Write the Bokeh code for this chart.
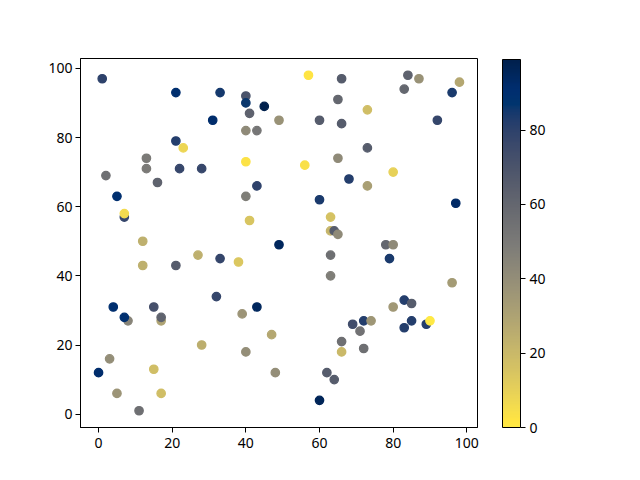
from bokeh.plotting import figure
from bokeh.models import Range1d, LinearColorMapper, ColorBar, FixedTicker, ColumnDataSource
from bokeh.palettes import Cividis256
from bokeh.embed import file_html
from bokeh.resources import INLINE

# data
xs = [1, 21, 33, 40, 40, 45, 41, 31, 40, 43, 21, 23, 13, 13, 22, 28, 40, 2, 16, 43, 5, 40, 7, 7, 41, 12, 49, 49,
      57, 66, 84, 87, 98, 83, 96, 65, 73, 60, 66, 92, 73, 65, 56, 80, 68, 73, 60, 97, 63, 63, 64, 65,
      27, 33, 38, 12, 21, 32, 4, 15, 43, 8, 7, 17, 17, 39, 47, 28, 40, 3, 48, 15, 0, 5, 17, 11,
      78, 80, 79, 63, 63, 96, 83, 85, 80, 69, 72, 74, 71, 83, 85, 89, 90, 66, 66, 72, 62, 64, 60]
ys = [97, 93, 93, 92, 90, 89, 87, 85, 82, 82, 79, 77, 74, 71, 71, 71, 73, 69, 67, 66, 63, 63, 57, 58, 56, 50, 49, 85,
      98, 97, 98, 97, 96, 94, 93, 91, 88, 85, 84, 85, 77, 74, 72, 70, 68, 66, 62, 61, 57, 53, 53, 52,
      46, 45, 44, 43, 43, 34, 31, 31, 31, 27, 28, 27, 28, 29, 23, 20, 18, 16, 12, 13, 12, 6, 6, 1,
      49, 49, 45, 46, 40, 38, 33, 32, 31, 26, 27, 27, 24, 25, 27, 26, 27, 21, 18, 19, 12, 10, 4]
cs = [80, 90, 85, 70, 86, 99, 63, 92, 42, 52, 82, 8, 50, 50, 77, 77, 3, 55, 62, 80, 90, 48, 78, 6, 15, 24, 95, 38,
      2, 66, 63, 38, 28, 60, 84, 60, 18, 66, 66, 78, 66, 42, 4, 10, 82, 32, 84, 93, 16, 22, 66, 42,
      24, 78, 14, 24, 66, 78, 90, 72, 95, 45, 90, 30, 62, 37, 28, 25, 40, 40, 40, 18, 92, 37, 18, 56,
      60, 42, 84, 56, 48, 34, 82, 66, 35, 74, 82, 36, 54, 82, 82, 82, 0, 56, 20, 56, 66, 66, 96]

xpad = (max(xs) - min(xs)) * 0.05
ypad = (max(ys) - min(ys)) * 0.05

FONT = "Noto Sans"
FS = "14px"

p = figure(width=624, height=464, output_backend="svg", toolbar_location=None,
           x_range=Range1d(min(xs) - xpad, max(xs) + xpad),
           y_range=Range1d(min(ys) - ypad, max(ys) + ypad),
           min_border_left=80, min_border_top=58, min_border_right=147, min_border_bottom=37)
p.grid.visible = False
p.outline_line_color = "black"
p.outline_line_width = 1
p.background_fill_color = "white"
p.border_fill_color = "white"

mapper = LinearColorMapper(palette=list(Cividis256[::-1]), low=min(cs), high=max(cs))
src = ColumnDataSource(dict(x=xs, y=ys, c=cs))
p.scatter("x", "y", source=src, size=8.4, line_width=1.3,
          fill_color={"field": "c", "transform": mapper},
          line_color={"field": "c", "transform": mapper})

for ax in (p.xaxis[0], p.yaxis[0]):
    ax.ticker = FixedTicker(ticks=[0, 20, 40, 60, 80, 100])
    ax.minor_tick_line_color = None
    ax.major_tick_in = 0
    ax.major_tick_out = 5
    ax.axis_line_color = "black"
    ax.major_tick_line_color = "black"
    ax.major_label_text_font = FONT
    ax.major_label_text_font_size = FS
    ax.major_label_text_color = "black"
p.xaxis[0].major_label_standoff = 5
p.yaxis[0].major_label_standoff = 3

cb = ColorBar(color_mapper=mapper, width=18, height=368, padding=0, margin=0,
              location=(25, 0),
              ticker=FixedTicker(ticks=[0, 20, 40, 60, 80]),
              major_tick_in=0, major_tick_out=5, major_tick_line_color="black",
              minor_tick_line_color=None,
              bar_line_color="black", bar_line_width=1,
              major_label_text_font=FONT, major_label_text_font_size=FS,
              major_label_text_color="black", label_standoff=4,
              background_fill_color=None, border_line_color=None)
p.add_layout(cb, "right")

open("out.html", "w").write(file_html(p, INLINE))
